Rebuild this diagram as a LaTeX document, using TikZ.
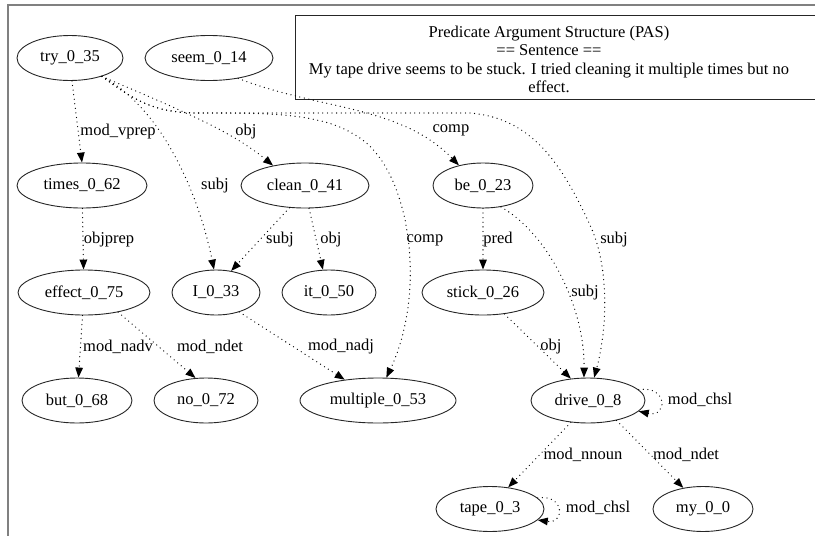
\documentclass[tikz,border=0pt]{standalone}
\usepackage{fontspec}
\setmainfont{Liberation Serif}
\usetikzlibrary{shapes.geometric,arrows.meta}
\begin{document}
\begin{tikzpicture}[x=1pt,y=-1pt,
  every node/.style={font=\fontsize{16.5}{18.3}\selectfont, inner sep=0pt},
  st/.style={ellipse, draw=black!85, line width=0.9pt, minimum height=45},
  edge/.style={line width=1.3pt, line cap=round, dash pattern=on 0pt off 4.6pt, -{Triangle[length=10pt,width=7.5pt]}},
  lbl/.style={anchor=center}]
\useasboundingbox (0,0) rectangle (815,536);
\clip (0,0) rectangle (815,536);
\draw[gray, line width=1.6pt] (8,5) rectangle (840,560);
% title
\node[draw=black!85, line width=0.9pt, minimum width=530, minimum height=84, anchor=north west] (titlebox) at (295,15) {};
\node[align=center] (title) at (549,59.5) {Predicate Argument Structure (PAS)\\== Sentence ==\\My tape drive seems to be stuck. I tried cleaning it multiple times but no\\effect.};
% nodes
\node[st, minimum width=106] (try) at (70,58) {try\_0\_35};
\node[st, minimum width=128] (seem) at (209,58) {seem\_0\_14};
\node[st, minimum width=130] (times) at (82,185.5) {times\_0\_62};
\node[st, minimum width=128] (clean) at (305,185.5) {clean\_0\_41};
\node[st, minimum width=100] (be) at (483,185.5) {be\_0\_23};
\node[st, minimum width=132] (effect) at (84,292.5) {effect\_0\_75};
\node[st, minimum width=88] (I) at (216,292.5) {I\_0\_33};
\node[st, minimum width=94] (it) at (329,292.5) {it\_0\_50};
\node[st, minimum width=122] (stick) at (483,292.5) {stick\_0\_26};
\node[st, minimum width=110] (but) at (77,400.5) {but\_0\_68};
\node[st, minimum width=104] (no) at (206,400.5) {no\_0\_72};
\node[st, minimum width=156] (multiple) at (378,400.5) {multiple\_0\_53};
\node[st, minimum width=114] (drive) at (588,400.5) {drive\_0\_8};
\node[st, minimum width=108] (tape) at (490,509) {tape\_0\_3};
\node[st, minimum width=100] (my) at (703,509) {my\_0\_0};
% edges
\draw[edge] (try.-85) -- (times.north);
\draw[edge] (try.-30) .. controls (165,110) and (200,200) .. (I.95);
\draw[edge] (try.-30) .. controls (180,110) and (230,130) .. (clean.148);
\draw[edge] (try.-30) .. controls (140,105) and (160,113) .. (200,113)
  .. controls (260,113) and (320,112) .. (355,135)
  .. controls (410,165) and (428,290) .. (multiple.70);
\draw[edge] (try.-30) .. controls (140,105) and (160,113) .. (200,113) -- (470,113)
  .. controls (530,118) and (560,160) .. (590,225)
  .. controls (610,268) and (607,330) .. (drive.75);
\draw[edge] (seem.-35) .. controls (320,110) and (400,105) .. (be.140);
\draw[edge] (times) -- (effect);
\draw[edge] (clean.-125) -- (I.55);
\draw[edge] (clean.-80) -- (it.105);
\draw[edge] (effect) -- (but);
\draw[edge] (effect.-30) -- (no.115);
\draw[edge] (I.-40) -- (multiple.148);
\draw[edge] (be) -- (stick);
\draw[edge] (be.-50) .. controls (550,235) and (585,310) .. (drive.100);
\draw[edge] (stick.-45) -- (drive.128);
\draw[edge] (drive.12) .. controls (668,385) and (668,418) .. (drive.-12);
\draw[edge] (drive.-128) -- (tape.50);
\draw[edge] (drive.-35) -- (my.133);
\draw[edge] (tape.13) .. controls (565,494) and (565,524) .. (tape.-13);
% labels
\node[lbl] (l1) at (118,132) {mod\_vprep};
\node[lbl] (l2) at (215,186) {subj};
\node[lbl] (l3) at (246,132) {obj};
\node[lbl] (l4) at (451,130) {comp};
\node[lbl] (l5) at (425,240) {comp};
\node[lbl] (l6) at (614,240) {subj};
\node[lbl] (l7) at (109,240) {objprep};
\node[lbl] (l8) at (280,240) {subj};
\node[lbl] (l9) at (331,240) {obj};
\node[lbl] (l10) at (498,240) {pred};
\node[lbl] (l11) at (585,293) {subj};
\node[lbl] (l12) at (118,347) {mod\_nadv};
\node[lbl] (l13) at (210,347) {mod\_ndet};
\node[lbl] (l14) at (341,347) {mod\_nadj};
\node[lbl] (l15) at (551,347) {obj};
\node[lbl] (l16) at (700,400) {mod\_chsl};
\node[lbl] (l17) at (583,455) {mod\_nnoun};
\node[lbl] (l18) at (686,455) {mod\_ndet};
\node[lbl] (l19) at (598,508) {mod\_chsl};
\end{tikzpicture}
\end{document}
